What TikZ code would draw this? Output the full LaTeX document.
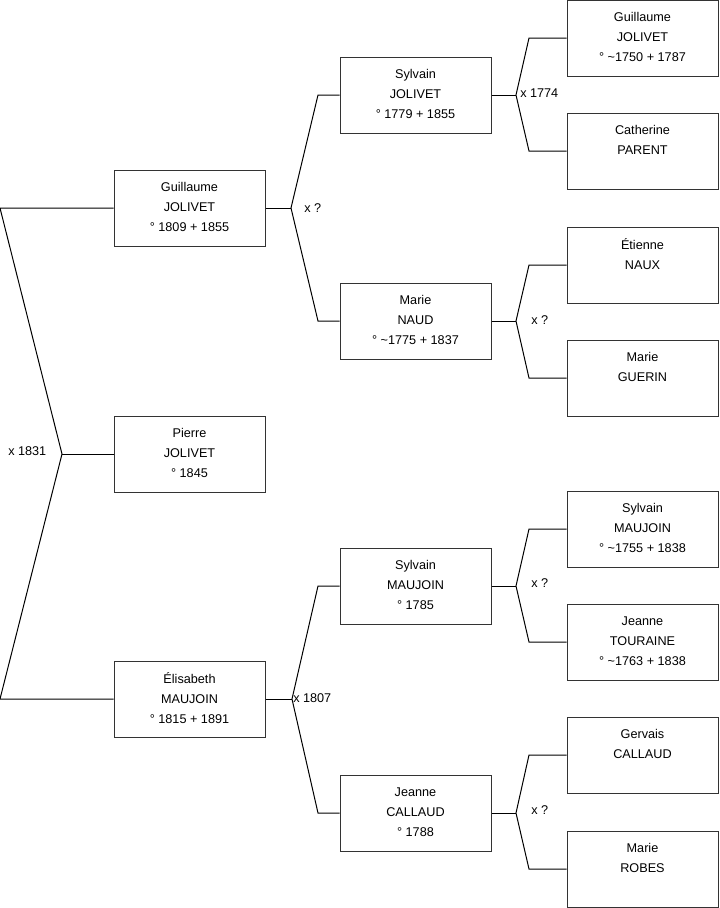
\documentclass[tikz,border=0pt]{standalone}
\usepackage{fontspec}
\setmainfont{Liberation Sans}
\begin{document}
\begin{tikzpicture}[x=0.75pt,y=-0.75pt,
  person/.style={draw=black!80, line width=0.75pt, rectangle, minimum width=113.25pt,
    minimum height=57pt, inner sep=0pt, align=center, text depth=1.6pt,
    font=\fontsize{9.5}{15}\selectfont},
  link/.style={draw=black, line width=0.75pt},
  lbl/.style={font=\fontsize{9.5}{11}\selectfont, anchor=west, inner sep=0pt}]
\useasboundingbox (0,0) rectangle (719,908);
% column 1
\node[person] (g1) at (189.5,208) {Guillaume\\JOLIVET\\° 1809 + 1855};
\node[person] (p)  at (189.5,454) {Pierre\\JOLIVET\\° 1845};
\node[person] (e)  at (189.5,699) {Élisabeth\\MAUJOIN\\° 1815 + 1891};
% column 2
\node[person] (s1) at (415.5,95)  {Sylvain\\JOLIVET\\° 1779 + 1855};
\node[person] (m1) at (415.5,321) {Marie\\NAUD\\° \textasciitilde 1775 + 1837};
\node[person] (s2) at (415.5,586) {Sylvain\\MAUJOIN\\° 1785};
\node[person] (j2) at (415.5,813) {Jeanne\\CALLAUD\\° 1788};
% column 3
\node[person] (a1) at (642.5,38)  {Guillaume\\JOLIVET\\° \textasciitilde 1750 + 1787};
\node[person] (a2) at (642.5,151) {Catherine\\PARENT\\\mbox{}};
\node[person] (a3) at (642.5,265) {Étienne\\NAUX\\\mbox{}};
\node[person] (a4) at (642.5,378) {Marie\\GUERIN\\\mbox{}};
\node[person] (a5) at (642.5,529) {Sylvain\\MAUJOIN\\° \textasciitilde 1755 + 1838};
\node[person] (a6) at (642.5,642) {Jeanne\\TOURAINE\\° \textasciitilde 1763 + 1838};
\node[person] (a7) at (642.5,755) {Gervais\\CALLAUD\\\mbox{}};
\node[person] (a8) at (642.5,869) {Marie\\ROBES\\\mbox{}};
% root union
\coordinate (r0) at (0,208);
\coordinate (rv) at (62,454);
\coordinate (r1) at (0,699);
\draw[link] (g1.west) -- (r0) -- (rv) -- (r1) -- (e.west);
\draw[link] (rv) -- (p.west);
\node[lbl] (l0) at (8,451) {x 1831};
% Guillaume union
\coordinate (v1) at (291,208);
\coordinate (v1a) at (318,95);
\coordinate (v1b) at (318,321);
\draw[link] (g1.east) -- (v1);
\draw[link] (s1.west) -- (v1a) -- (v1) -- (v1b) -- (m1.west);
\node[lbl] (l1) at (304,208) {x ?};
% Elisabeth union
\coordinate (v2) at (292,699);
\coordinate (v2a) at (318,586);
\coordinate (v2b) at (318,813);
\draw[link] (e.east) -- (v2);
\draw[link] (s2.west) -- (v2a) -- (v2) -- (v2b) -- (j2.west);
\node[lbl] (l2) at (293,698) {x 1807};
% Sylvain JOLIVET union
\coordinate (w1) at (516,95);
\coordinate (w1a) at (529,38);
\coordinate (w1b) at (529,151);
\draw[link] (s1.east) -- (w1);
\draw[link] (a1.west) -- (w1a) -- (w1) -- (w1b) -- (a2.west);
\node[lbl] (k1) at (520,93) {x 1774};
% Marie NAUD union
\coordinate (w2) at (516,321);
\coordinate (w2a) at (529,265);
\coordinate (w2b) at (529,378);
\draw[link] (m1.east) -- (w2);
\draw[link] (a3.west) -- (w2a) -- (w2) -- (w2b) -- (a4.west);
\node[lbl] (k2) at (531,320) {x ?};
% Sylvain MAUJOIN union
\coordinate (w3) at (516,586);
\coordinate (w3a) at (529,529);
\coordinate (w3b) at (529,642);
\draw[link] (s2.east) -- (w3);
\draw[link] (a5.west) -- (w3a) -- (w3) -- (w3b) -- (a6.west);
\node[lbl] (k3) at (531,583) {x ?};
% Jeanne CALLAUD union
\coordinate (w4) at (516,813);
\coordinate (w4a) at (529,755);
\coordinate (w4b) at (529,869);
\draw[link] (j2.east) -- (w4);
\draw[link] (a7.west) -- (w4a) -- (w4) -- (w4b) -- (a8.west);
\node[lbl] (k4) at (531,810) {x ?};
\end{tikzpicture}
\end{document}
